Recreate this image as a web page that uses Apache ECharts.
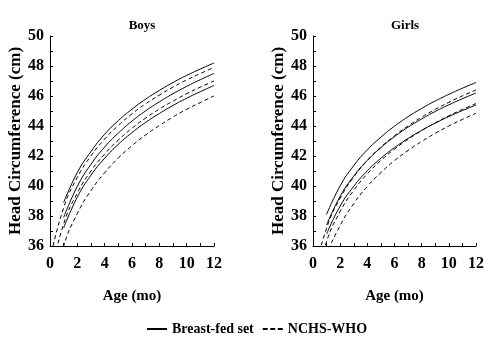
<!DOCTYPE html>
<html>
<head>
<meta charset="utf-8">
<script src="https://cdn.jsdelivr.net/npm/echarts@6/dist/echarts.min.js"></script>
<style>html,body{margin:0;padding:0;background:#fff}#c{width:499px;height:348px}</style>
</head>
<body>
<div id="c"></div>
<script>
// ---- data ----
const months = [0,1,2,3,4,5,6,7,8,9,10,11,12];
const panelTitles = ['Boys', 'Girls'];
const yTicks = [36,38,40,42,44,46,48,50];
const xTicks = [0,2,4,6,8,10,12];
const seriesNames = ['Breast-fed set', 'NCHS-WHO'];

// Boys, breast-fed set (solid), start at month 1
const boysBF1 = [null,38.9,40.9,42.3,43.45,44.36,45.12,45.79,46.37,46.9,47.37,47.8,48.2];
const boysBF2 = [null,37.9,39.98,41.45,42.6,43.53,44.33,45.01,45.61,46.15,46.64,47.09,47.5];
const boysBF3 = [null,37.2,39.26,40.72,41.85,42.78,43.56,44.24,44.83,45.37,45.85,46.29,46.7];
// Boys, NCHS-WHO (dashed)
const boysNC1 = [35.1,38.55,40.58,42.01,43.13,44.04,44.81,45.48,46.06,46.59,47.07,47.5,47.9];
const boysNC2 = [33.9,37.47,39.53,41.0,42.13,43.06,43.85,44.53,45.13,45.66,46.15,46.59,47.0];
const boysNC3 = [32.3,36.0,38.17,39.7,40.89,41.87,42.69,43.41,44.03,44.6,45.11,45.57,46.0];

// Girls, breast-fed set (solid)
const girlsBF1 = [null,38.1,40.01,41.36,42.41,43.26,43.99,44.62,45.17,45.67,46.11,46.52,46.9];
const girlsBF2 = [null,37.4,39.31,40.66,41.71,42.56,43.29,43.92,44.47,44.97,45.41,45.82,46.2];
const girlsBF3 = [null,36.8,38.66,39.98,41.01,41.85,42.56,43.17,43.71,44.19,44.63,45.03,45.4];
// Girls, NCHS-WHO (dashed)
const girlsNC1 = [33.8,37.19,39.19,40.6,41.7,42.6,43.35,44.01,44.59,45.11,45.58,46.01,46.4];
const girlsNC2 = [32.9,36.3,38.3,39.71,40.81,41.7,42.46,43.11,43.69,44.21,44.68,45.11,45.5];
const girlsNC3 = [31.7,35.29,37.36,38.83,39.97,40.9,41.69,42.37,42.97,43.51,44.0,44.44,44.85];

const panels = [
  {bf: [boysBF1, boysBF2, boysBF3], nc: [boysNC1, boysNC2, boysNC3]},
  {bf: [girlsBF1, girlsBF2, girlsBF3], nc: [girlsNC1, girlsNC2, girlsNC3]}
];

// ---- chart ----
const FONT = '"Liberation Serif", "Times New Roman", serif';
const grids = [
  {left: 50, top: 36, width: 164, height: 210},
  {left: 313, top: 36, width: 163, height: 210}
];
function pairs(arr){ const out=[]; arr.forEach((v,i)=>{ if(v!==null) out.push([months[i], v]); }); return out; }

const xAxes = grids.map((g,i)=>({
  type:'value', gridIndex:i, min:xTicks[0], max:xTicks[xTicks.length-1], interval:2,
  name:'Age (mo)', nameLocation:'middle', nameGap:43,
  nameTextStyle:{fontFamily:FONT, fontWeight:'bold', fontSize:15, color:'#000'},
  axisLine:{show:true, lineStyle:{color:'#000', width:1}},
  axisTick:{show:true, inside:true, length:3, lineStyle:{color:'#000'}},
  minorTick:{show:true, splitNumber:2, length:3, lineStyle:{color:'#000'}},
  splitLine:{show:false},
  axisLabel:{fontFamily:FONT, fontWeight:'bold', fontSize:16, color:'#000', margin:10}
}));
const yAxes = grids.map((g,i)=>({
  type:'value', gridIndex:i, min:yTicks[0], max:yTicks[yTicks.length-1], interval:2,
  name:'Head Circumference (cm)', nameLocation:'middle', nameGap:26,
  nameTextStyle:{fontFamily:FONT, fontWeight:'bold', fontSize:17, color:'#000'},
  axisLine:{show:true, lineStyle:{color:'#000', width:1}},
  axisTick:{show:true, inside:true, length:3, lineStyle:{color:'#000'}},
  minorTick:{show:true, splitNumber:2, length:3, lineStyle:{color:'#000'}},
  splitLine:{show:false},
  axisLabel:{fontFamily:FONT, fontWeight:'bold', fontSize:16, color:'#000', margin:6}
}));

const series = [];
panels.forEach((p,i)=>{
  p.bf.forEach(arr=>series.push({
    name: seriesNames[0], type:'line', xAxisIndex:i, yAxisIndex:i, data:pairs(arr),
    smooth:true, symbol:'none', clip:true,
    lineStyle:{color:'#000', width:1, type:'solid'}, itemStyle:{color:'#000'}
  }));
  p.nc.forEach(arr=>series.push({
    name: seriesNames[1], type:'line', xAxisIndex:i, yAxisIndex:i, data:pairs(arr),
    smooth:true, symbol:'none', clip:true,
    lineStyle:{color:'#000', width:1, type:[4,3]}, itemStyle:{color:'#000'}
  }));
});

const chart = echarts.init(document.getElementById('c'), null, {renderer:'canvas'});
chart.setOption({
  animation:false,
  backgroundColor:'#fff',
  title: [
    {text: panelTitles[0], left: 137, top: 14, textAlign:'center',
     textStyle:{fontFamily:FONT, fontWeight:'bold', fontSize:13, color:'#000'}},
    {text: panelTitles[1], left: 400, top: 14, textAlign:'center',
     textStyle:{fontFamily:FONT, fontWeight:'bold', fontSize:13, color:'#000'}}
  ],
  legend: {
    left: 147, top: 322, padding: 0, itemWidth: 20, itemHeight: 2, itemGap: 9,
    textStyle:{fontFamily:FONT, fontWeight:'bold', fontSize:14, color:'#000'},
    data: [
      {name: seriesNames[0], icon: 'path://M0,0H20V2H0Z', itemStyle:{color:'#000'}},
      {name: seriesNames[1], icon: 'path://M0,0H5V2H0ZM7.5,0H12.5V2H7.5ZM15,0H20V2H15Z', itemStyle:{color:'#000'}}
    ]
  },
  grid: grids,
  xAxis: xAxes,
  yAxis: yAxes,
  series: series
});
</script>
</body>
</html>
